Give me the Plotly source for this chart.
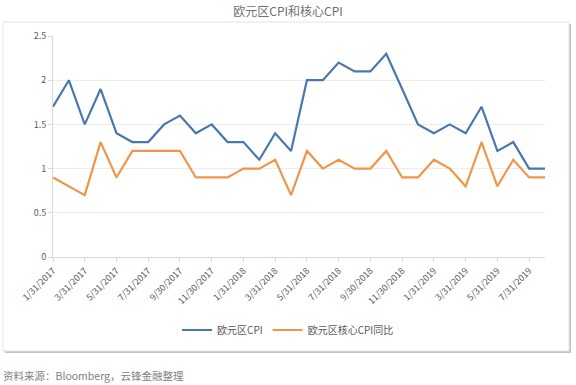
import plotly.graph_objects as go

months = ["1/31/2017","2/28/2017","3/31/2017","4/30/2017","5/31/2017","6/30/2017","7/31/2017","8/31/2017",
          "9/30/2017","10/31/2017","11/30/2017","12/31/2017","1/31/2018","2/28/2018","3/31/2018","4/30/2018",
          "5/31/2018","6/30/2018","7/31/2018","8/31/2018","9/30/2018","10/31/2018","11/30/2018","12/31/2018",
          "1/31/2019","2/28/2019","3/31/2019","4/30/2019","5/31/2019","6/30/2019","7/31/2019","8/31/2019"]
cpi = [1.7, 2.0, 1.5, 1.9, 1.4, 1.3, 1.3, 1.5, 1.6, 1.4, 1.5, 1.3, 1.3, 1.1, 1.4, 1.2,
       2.0, 2.0, 2.2, 2.1, 2.1, 2.3, 1.9, 1.5, 1.4, 1.5, 1.4, 1.7, 1.2, 1.3, 1.0, 1.0]
core = [0.9, 0.8, 0.7, 1.3, 0.9, 1.2, 1.2, 1.2, 1.2, 0.9, 0.9, 0.9, 1.0, 1.0, 1.1, 0.7,
        1.2, 1.0, 1.1, 1.0, 1.0, 1.2, 0.9, 0.9, 1.1, 1.0, 0.8, 1.3, 0.8, 1.1, 0.9, 0.9]
y_ticks = [0, 0.5, 1, 1.5, 2, 2.5]
y_labels = ["0", "0.5", "1", "1.5", "2", "2.5"]

idx = list(range(len(months)))
tick_idx = idx[::2]
tick_txt = months[::2]

fig = go.Figure()
fig.add_trace(go.Scatter(x=idx, y=cpi, mode="lines", name="欧元区CPI",
                         line=dict(color="#4A78AE", width=2.2)))
fig.add_trace(go.Scatter(x=idx, y=core, mode="lines", name="欧元区核心CPI同比",
                         line=dict(color="#F0964A", width=2.2)))

L, R, T, B = 53, 545, 36, 257
pw, ph = R - L, B - T
def px(x): return (x - L) / pw
def py(y): return (B - y) / ph

shapes = [
    dict(type="rect", xref="paper", yref="paper", x0=px(5), x1=px(571), y0=py(353), y1=py(24),
         fillcolor="#c4c4c4", line=dict(width=0), layer="below"),
    dict(type="rect", xref="paper", yref="paper", x0=px(3), x1=px(569), y0=py(351), y1=py(22),
         fillcolor="white", line=dict(color="#e4e4e4", width=1), layer="below"),
]

fig.update_layout(
    width=576, height=385,
    margin=dict(l=L, r=576 - R, t=T, b=385 - B),
    paper_bgcolor="white", plot_bgcolor="rgba(0,0,0,0)",
    font=dict(family="Noto Sans CJK SC, Noto Sans, sans-serif", color="#595959", size=10),
    title=dict(text="欧元区CPI和核心CPI", x=0.5, xref="container", y=1 - 12 / 385, yref="container",
               yanchor="middle", xanchor="center", font=dict(size=12, color="#707070")),
    showlegend=True,
    legend=dict(orientation="h", x=px(288), xanchor="center", y=py(330), yanchor="middle",
                font=dict(size=10, color="#595959"), itemwidth=30, bgcolor="rgba(0,0,0,0)"),
    shapes=shapes,
    annotations=[dict(text="资料来源：Bloomberg，云锋金融整理", xref="paper", yref="paper",
                      x=px(1), y=py(376), xanchor="left", yanchor="middle", showarrow=False,
                      font=dict(size=10.5, color="#808080"))],
)
fig.update_xaxes(range=[0, len(months) - 1], tickmode="array", tickvals=tick_idx, ticktext=tick_txt,
                 tickangle=-45, showgrid=False, showline=True, linecolor="#d9d9d9", linewidth=1,
                 ticks="outside", ticklen=4, tickcolor="#d9d9d9", tickfont=dict(size=9, color="#595959"),
                 zeroline=False)
fig.update_yaxes(range=[0, 2.5], tickmode="array", tickvals=y_ticks, ticktext=y_labels,
                 showgrid=True, gridcolor="#ececec", gridwidth=1, showline=True, linecolor="#d9d9d9",
                 ticks="outside", ticklen=4, tickcolor="#d9d9d9", tickfont=dict(size=9, color="#595959"),
                 zeroline=False)

fig.write_html("out.html", config={"displayModeBar": False},
               post_script="document.body.style.margin='0';")
